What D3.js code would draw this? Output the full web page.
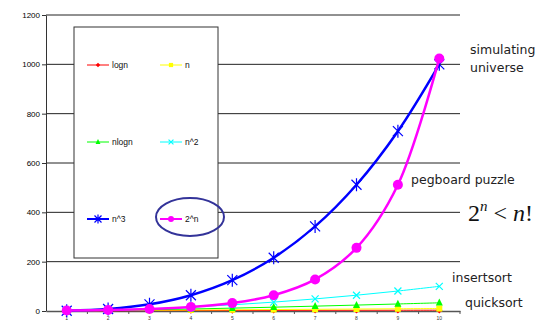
<!DOCTYPE html>
<html>
<head>
<meta charset="utf-8">
<script src="https://cdn.jsdelivr.net/npm/d3@7"></script>
<style>
  body { margin: 0; background: #fff; }
  svg { font-family: Arial, "Liberation Sans", sans-serif; }
</style>
</head>
<body>
<div id="chart"></div>
<script>
const width = 557;
const height = 322;

// data
const ns = [1, 2, 3, 4, 5, 6, 7, 8, 9, 10];
const logn = [0, 1, 1.58, 2, 2.32, 2.58, 2.81, 3, 3.17, 3.32];
const linear = [1, 2, 3, 4, 5, 6, 7, 8, 9, 10];
const nlogn = [0, 2, 4.75, 8, 11.6, 15.5, 19.7, 24, 28.5, 33.2];
const nsq = [1, 4, 9, 16, 25, 36, 49, 64, 81, 100];
const ncube = [1, 8, 27, 64, 125, 216, 343, 512, 729, 1000];
const twoN = [2, 4, 8, 16, 32, 64, 128, 256, 512, 1024];
const yTicks = [0, 200, 400, 600, 800, 1000, 1200];

const series = [
  { name: "logn", values: logn, color: "#ff0000", w: 1, marker: "diamond" },
  { name: "n", values: linear, color: "#ffff00", w: 1, marker: "square" },
  { name: "nlogn", values: nlogn, color: "#00ff00", w: 1, marker: "triangle" },
  { name: "n^2", values: nsq, color: "#00ffff", w: 1, marker: "x" },
  { name: "n^3", values: ncube, color: "#0000ff", w: 2.5, marker: "star" },
  { name: "2^n", values: twoN, color: "#ff00ff", w: 2.5, marker: "circle" }
];

const margin = { top: 15, left: 46, right: 97, bottom: 11 };

const svg = d3.select("#chart").append("svg")
  .attr("width", width)
  .attr("height", height);

const x = d3.scaleBand()
  .domain(ns)
  .range([margin.left, width - margin.right]);

const y = d3.scaleLinear()
  .domain([0, 1200])
  .range([height - margin.bottom, margin.top]);

const cx = d => x(d) + x.bandwidth() / 2;

// gridlines
svg.append("g")
  .selectAll("line")
  .data(yTicks.filter(t => t > 0))
  .enter().append("line")
  .attr("x1", margin.left)
  .attr("x2", width - margin.right)
  .attr("y1", d => y(d))
  .attr("y2", d => y(d))
  .attr("stroke", "#222")
  .attr("stroke-width", 1);

// y axis
const yAxis = svg.append("g")
  .attr("transform", `translate(${margin.left},0)`)
  .call(d3.axisLeft(y).tickValues(yTicks).tickFormat(d3.format("d")).tickSize(4).tickSizeOuter(0));
yAxis.select(".domain").attr("stroke", "#333");
yAxis.selectAll(".tick line").attr("stroke", "#333");
yAxis.selectAll("text").style("font-family", "Arial, 'Liberation Sans', sans-serif")
  .attr("font-size", 8).attr("fill", "#000").attr("dx", "1");

// x axis
const xAxis = svg.append("g")
  .attr("transform", `translate(0,${y(0)})`)
  .call(d3.axisBottom(x).tickSize(0).tickSizeOuter(0));
xAxis.select(".domain").attr("stroke", "#555").attr("stroke-width", 1.5);
xAxis.selectAll("text").style("font-family", "Arial, 'Liberation Sans', sans-serif")
  .attr("font-size", 5).attr("fill", "#333").attr("dy", "6");
// tick marks between categories
svg.append("g")
  .selectAll("line")
  .data(ns)
  .enter().append("line")
  .attr("x1", d => x(d) + x.bandwidth())
  .attr("x2", d => x(d) + x.bandwidth())
  .attr("y1", y(0))
  .attr("y2", y(0) + 3)
  .attr("stroke", "#555");

// markers
function drawMarker(g, type, color, s) {
  if (type === "circle") {
    g.append("circle").attr("r", s).attr("fill", color);
  } else if (type === "square") {
    g.append("rect").attr("x", -s).attr("y", -s).attr("width", 2 * s).attr("height", 2 * s).attr("fill", color);
  } else if (type === "diamond") {
    g.append("path").attr("d", `M0,${-s}L${s},0L0,${s}L${-s},0Z`).attr("fill", color);
  } else if (type === "triangle") {
    g.append("path").attr("d", `M0,${-s * 1.2}L${s},${s * 0.8}L${-s},${s * 0.8}Z`).attr("fill", color);
  } else if (type === "x") {
    g.append("path").attr("d", `M${-s},${-s}L${s},${s}M${s},${-s}L${-s},${s}`)
      .attr("stroke", color).attr("stroke-width", 1.2);
  } else if (type === "star") {
    g.append("path")
      .attr("d", `M${-s},${-s}L${s},${s}M${s},${-s}L${-s},${s}M0,${-s * 1.3}L0,${s * 1.3}`)
      .attr("stroke", color).attr("stroke-width", 1.2);
  }
}

const markerSize = { circle: 5, square: 3, diamond: 3.2, triangle: 3.5, x: 3.5, star: 5 };

const line = d3.line()
  .x((d, i) => cx(ns[i]))
  .y(d => y(d))
  .curve(d3.curveCatmullRom.alpha(0.5));

// legend box
const lg = svg.append("g");
lg.append("rect")
  .attr("x", 74).attr("y", 27)
  .attr("width", 144).attr("height", 231)
  .attr("fill", "#fff")
  .attr("stroke", "#333")
  .attr("stroke-width", 1);

series.forEach((s, i) => {
  const col = i % 2;
  const row = Math.floor(i / 2);
  const lx = 87 + col * 73;
  const ly = 65 + row * 77;
  const g = lg.append("g").attr("transform", `translate(${lx},${ly})`);
  g.append("line")
    .attr("x1", 0).attr("x2", 22)
    .attr("stroke", s.color)
    .attr("stroke-width", s.w === 1 ? 1 : 2);
  const m = g.append("g").attr("transform", "translate(11,0)");
  drawMarker(m, s.marker, s.color, s.marker === "circle" ? 3 : markerSize[s.marker] * 0.7);
  g.append("text")
    .attr("x", 25).attr("y", 3)
    .attr("font-size", 8.5)
    .attr("fill", "#111")
    .text(s.name);
});

// ellipse around 2^n
svg.append("ellipse")
  .attr("cx", 190).attr("cy", 217)
  .attr("rx", 34).attr("ry", 19)
  .attr("fill", "none")
  .attr("stroke", "#333399")
  .attr("stroke-width", 2);

// series lines
series.forEach(s => {
  svg.append("path")
    .datum(s.values)
    .attr("fill", "none")
    .attr("stroke", s.color)
    .attr("stroke-width", s.w)
    .attr("d", line);
  svg.append("g")
    .selectAll("g")
    .data(s.values)
    .enter().append("g")
    .attr("transform", (d, i) => `translate(${cx(ns[i])},${y(d)})`)
    .each(function () { drawMarker(d3.select(this), s.marker, s.color, markerSize[s.marker]); });
});

// annotations
const notes = [
  { text: "simulating", x: 470, y: 54 },
  { text: "universe", x: 470, y: 72 },
  { text: "pegboard puzzle", x: 411, y: 184 },
  { text: "insertsort", x: 452, y: 282 },
  { text: "quicksort", x: 465, y: 307 }
];
svg.append("g")
  .selectAll("text")
  .data(notes)
  .enter().append("text")
  .attr("x", d => d.x)
  .attr("y", d => d.y)
  .style("font-family", "Verdana, 'DejaVu Sans', sans-serif")
  .attr("font-size", 12.5)
  .attr("fill", "#222")
  .text(d => d.text);

const math = svg.append("text")
  .attr("x", 468).attr("y", 221)
  .style("font-family", "'Liberation Serif', 'DejaVu Serif', serif")
  .attr("font-size", 24)
  .attr("fill", "#111");
math.append("tspan").text("2");
math.append("tspan").attr("font-style", "italic").attr("font-size", 15).attr("dy", -10).text("n");
math.append("tspan").attr("dy", 10).text(" < ");
math.append("tspan").attr("font-style", "italic").text("n");
math.append("tspan").text("!");
</script>
</body>
</html>
